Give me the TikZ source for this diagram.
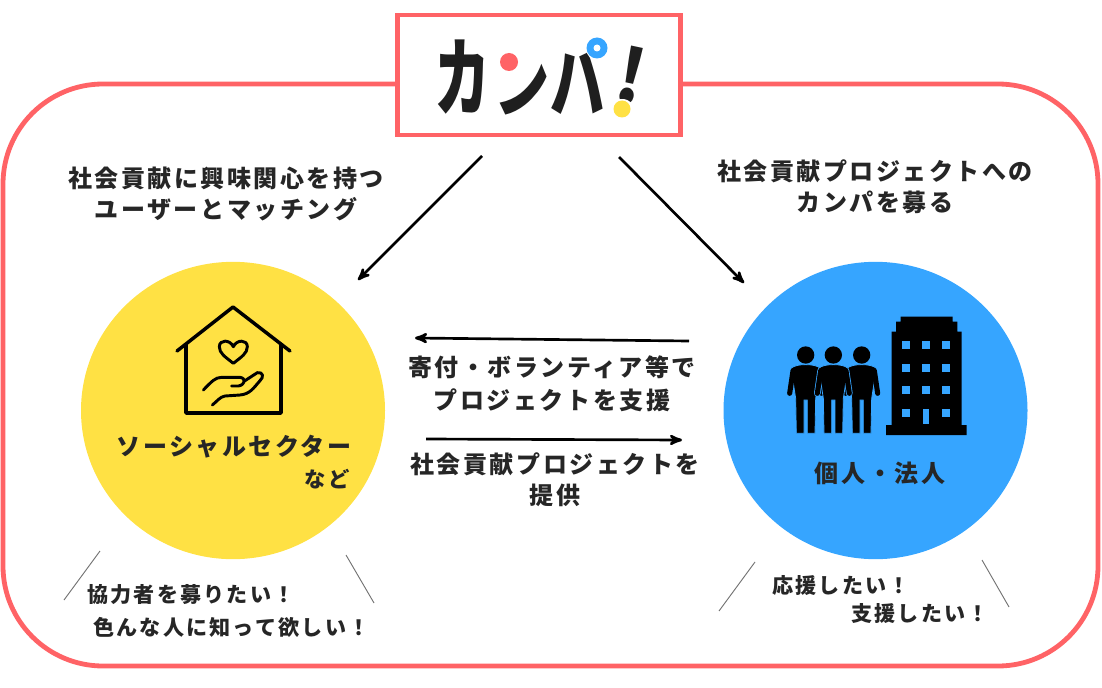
\documentclass[tikz,border=0pt]{standalone}
\usepackage{fontspec}
\usetikzlibrary{arrows,shapes.geometric}
\newfontfamily\jptext[LetterSpace=10.5]{Noto Sans CJK JP}
\newfontfamily\jplogo{Noto Sans CJK JP}
\definecolor{framered}{HTML}{FF6366}
\definecolor{sectoryellow}{HTML}{FFE144}
\definecolor{donorblue}{HTML}{36A5FF}
\tikzset{
	label/.style={font=\jptext\fontsize{18}{20}\selectfont\bfseries, text=black!85, inner sep=0pt},
	small label/.style={font=\jptext\fontsize{15.8}{20}\selectfont\bfseries, text=black!85, inner sep=0pt, anchor=west},
	logo glyph/.style={font=\jplogo\fontsize{56}{60}\selectfont\bfseries, text=black!88, inner sep=0pt},
	logo patch/.style={white},
	flow/.style={->, >=stealth', line width=2pt, black},
	tick/.style={line width=.7pt, black!55},
	party/.style={ellipse, minimum width=228pt, minimum height=223pt, inner sep=0pt},
	icon line/.style={line width=2.6pt, black, line join=round, line cap=round},
	person/.pic={
		\draw[line width=5pt, line cap=round, donorblue] (-38,212) -- (-48,280) (38,212) -- (48,280);
		\fill[black, draw=donorblue, line width=.6pt] (-44,205) .. controls (-30,190) and (30,190) .. (44,205) -- (30,295) -- (28,400) -- (5,400) -- (5,300) -- (-5,300) -- (-5,400) -- (-28,400) -- (-30,295) -- cycle;
		\fill[black] (0,165) circle (26);
		\draw[line width=3.8pt, line cap=round, black] (-38,212) -- (-48,280) (38,212) -- (48,280);
	}
}
\begin{document}
\begin{tikzpicture}[x=.75pt, y=-.75pt]
	\useasboundingbox (0,0) rectangle (1102,688);
	\draw[framered, line width=3.6pt, rounded corners=75pt] (3,84) rectangle (1098,666);
	\node[draw=framered, fill=white, line width=3.6pt, minimum width=212pt, minimum height=90pt, inner sep=0pt] (logo) at (539,75) {};
	\node[logo glyph] (logoka) at (462,77) {\scalebox{.75}[1.15]{カ}};
	\node[logo glyph] (logon) at (522,84) {\scalebox{.74}[1]{ン}};
	\node[logo glyph] (logopa) at (578,78) {\scalebox{.74}[1.1]{パ}};
	\node[logo glyph, rotate=-12] (logomark) at (631,76) {\scalebox{.9}[1]{!}};
	\fill[logo patch] (511,66) circle (15);
	\fill[logo patch] (600,48) circle (14);
	\fill[logo patch] (622,113) circle (14);
	\fill[framered] (509,62) circle (9);
	\fill[donorblue] (597,48) circle (10.5);
	\fill[white] (597,48) circle (3.5);
	\fill[sectoryellow] (622,109) circle (8.5);

	\node[party, fill=sectoryellow] (sector) at (233,410.5) {};
	\node[party, fill=donorblue] (donor) at (875.5,410.5) {};

	\node[label, align=center] (matching) at (226,194) {社会貢献に興味関心を持つ\\[3pt]ユーザーとマッチング};
	\node[label, align=center] (funding) at (875,187) {社会貢献プロジェクトへの\\[3pt]カンパを募る};
	\node[label, align=center] (support) at (552,384) {寄付・ボランティア等で\\[5pt]プロジェクトを支援};
	\node[label, align=center] (offer) at (555,480) {社会貢献プロジェクトを\\[3pt]提供};
	\node[label] (sectorname) at (234,447) {ソーシャルセクター};
	\node[label, font=\jptext\fontsize{16}{20}\selectfont\bfseries] (sectoretc) at (327,479) {など};
	\node[label] (donorname) at (880,473) {個人・法人};
	\node[small label] (voicea) at (87,595) {協力者を募りたい！};
	\node[small label] (voiceb) at (93,627) {色んな人に知って欲しい！};
	\node[small label] (voicec) at (772,586) {応援したい！};
	\node[small label] (voiced) at (851,614) {支援したい！};

	\coordinate (logoleft) at (482,156);
	\coordinate (logoright) at (619,157);
	\coordinate (sectortop) at (358,280);
	\coordinate (donortop) at (744,283);
	\coordinate (supportstart) at (689,341);
	\coordinate (supportend) at (415,338);
	\coordinate (offerstart) at (426,439);
	\coordinate (offerend) at (682,440);
	\draw[flow] (logoleft) -- (sectortop);
	\draw[flow] (logoright) -- (donortop);
	\draw[flow] (supportstart) -- (supportend);
	\draw[flow] (offerstart) -- (offerend);

	\coordinate (ticka) at (100,551);
	\coordinate (tickb) at (64,600);
	\coordinate (tickc) at (346,555);
	\coordinate (tickd) at (374,603);
	\coordinate (ticke) at (755,562);
	\coordinate (tickf) at (719,611);
	\coordinate (tickg) at (982,560);
	\coordinate (tickh) at (1009,607);
	\draw[tick] (ticka) -- (tickb);
	\draw[tick] (tickc) -- (tickd);
	\draw[tick] (ticke) -- (tickf);
	\draw[tick] (tickg) -- (tickh);

	% house with heart and hand
	\draw[icon line] (177,351) -- (233,307) -- (290,351);
	\draw[icon line] (186,345) -- (186,413) -- (281,413) -- (281,345);
	\begin{scope}[shift={(150,290)}, x=.25pt, y=-.25pt]
		\draw[icon line, line width=2.2pt] (250,220) .. controls (225,200) and (208,190) .. (208,170) .. controls (208,148) and (240,148) .. (250,170) .. controls (260,148) and (292,148) .. (292,170) .. controls (292,190) and (275,200) .. (250,220) -- cycle;
		\draw[icon line, line width=2.2pt] (160,300) .. controls (185,275) and (195,262) .. (215,262) -- (270,262) .. controls (290,265) and (285,285) .. (265,288) -- (245,288);
		\draw[icon line, line width=2.2pt] (285,272) -- (322,248) .. controls (340,245) and (342,262) .. (330,272) .. controls (310,295) and (300,312) .. (270,315) -- (225,318) .. controls (210,320) and (200,335) .. (187,345);
	\end{scope}

	% people and building
	\begin{scope}[shift={(770,300)}, x=.25pt, y=-.25pt]
		\pic at (107,0) {person};
		\pic at (275,0) {person};
		\pic at (190,0) {person};
		\fill[black] (348,405) -- (348,375) -- (365,375) -- (365,95) -- (378,95) -- (378,65) -- (392,65) -- (392,50) -- (548,50) -- (548,65) -- (562,65) -- (562,95) -- (575,95) -- (575,375) -- (590,375) -- (590,405) -- cycle;
		\foreach \wx in {408,468,528}
			\foreach \wy in {135,203,270}
				\fill[donorblue] (\wx-12,\wy-12) rectangle (\wx+12,\wy+12);
		\fill[donorblue] (396,326) rectangle (420,350);
		\fill[donorblue] (516,326) rectangle (540,350);
		\fill[donorblue] (459,328) rectangle (477,372);
	\end{scope}
\end{tikzpicture}
\end{document}
